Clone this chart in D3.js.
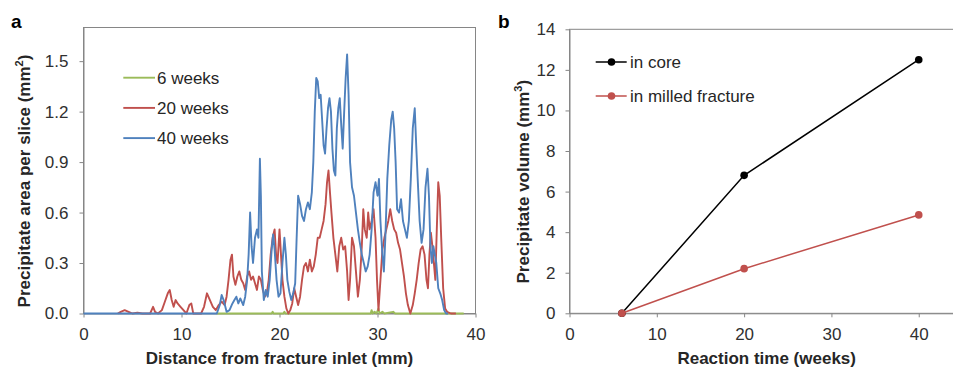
<!DOCTYPE html>
<html>
<head>
<meta charset="utf-8">
<script src="https://cdn.jsdelivr.net/npm/d3@7"></script>
<style>
  body { margin: 0; background: #fff; }
  svg { display: block; font-family: "Liberation Sans", Arial, sans-serif; }
  .axis path, .axis line { stroke: #868686; }
  .axis text { fill: #303030; font-size: 17px; font-family: "Liberation Sans", Arial, sans-serif; }
</style>
</head>
<body>
<svg id="chart" width="953" height="368"></svg>
<script>
// panel a: precipitate area per slice, [distance mm, area mm2]
var weeks6 = [[13.6,0],[19.2,0],[19.3,0.01],[19.4,0],[20.4,0],[20.5,0.01],[20.6,0],[29.3,0],[29.4,0.02],
  [29.5,0],[29.7,0.01],[29.9,0],[30.1,0.03],[30.2,0],[30.5,0.01],[30.7,0],[31.6,0.01],[31.8,0],[38.8,0]];

var weeks20 = [[3.5,0],[3.8,0.01],[4.2,0.02],[4.6,0.01],[5.0,0],[5.5,0.005],[6.0,0],[6.8,0],[7.1,0.04],[7.3,0.01],
  [7.6,0],[8.0,0.02],[8.3,0.07],[8.6,0.12],[8.8,0.14],[9.0,0.08],[9.2,0.04],[9.4,0.08],[9.6,0.06],[9.9,0.04],
  [10.2,0.02],[10.5,0],[10.8,0.05],[11.0,0.06],[11.2,0],[11.6,0],[12.0,0],[12.3,0.04],[12.6,0.12],[12.9,0.08],
  [13.2,0.04],[13.5,0.02],[13.8,0.05],[14.1,0.07],[14.4,0.05],[14.6,0.1],[14.8,0.2],[15.0,0.32],[15.15,0.35],
  [15.3,0.22],[15.5,0.17],[15.7,0.22],[15.9,0.25],[16.1,0.2],[16.3,0.18],[16.5,0.14],[16.7,0.22],[16.9,0.25],
  [17.1,0.2],[17.3,0.22],[17.5,0.18],[17.7,0.14],[17.9,0.22],[18.1,0.2],[18.3,0.14],[18.5,0.1],[18.7,0.12],
  [18.9,0.2],[19.1,0.35],[19.3,0.45],[19.5,0.5],[19.65,0.35],[19.8,0.3],[20.0,0.5],[20.15,0.35],[20.3,0.2],
  [20.5,0.1],[20.7,0.03],[20.9,0],[21.1,0.02],[21.3,0.06],[21.5,0.15],[21.7,0.1],[21.9,0.05],[22.1,0.1],
  [22.3,0.2],[22.5,0.28],[22.7,0.3],[22.9,0.25],[23.1,0.32],[23.3,0.25],[23.5,0.28],[23.7,0.35],[23.9,0.45],
  [24.1,0.45],[24.3,0.5],[24.5,0.55],[24.7,0.65],[24.85,0.78],[25.0,0.85],[25.15,0.72],[25.3,0.6],[25.5,0.45],
  [25.7,0.35],[25.9,0.25],[26.1,0.4],[26.3,0.45],[26.5,0.38],[26.7,0.4],[26.9,0.25],[27.05,0.08],[27.2,0.2],
  [27.4,0.45],[27.6,0.4],[27.8,0.25],[28.0,0.1],[28.2,0.2],[28.4,0.4],[28.55,0.62],[28.7,0.5],[28.9,0.45],
  [29.05,0.6],[29.2,0.5],[29.4,0.55],[29.6,0.62],[29.8,0.45],[29.95,0.2],[30.1,0.02],[30.3,0.2],[30.5,0.38],
  [30.7,0.45],[30.9,0.5],[31.1,0.55],[31.3,0.62],[31.5,0.55],[31.7,0.5],[31.9,0.48],[32.1,0.42],[32.3,0.38],
  [32.5,0.3],[32.7,0.22],[32.9,0.12],[33.1,0.05],[33.35,0],[33.6,0.05],[33.8,0.12],[34.0,0.2],[34.2,0.3],
  [34.4,0.38],[34.6,0.4],[34.8,0.35],[35.0,0.2],[35.15,0.15],[35.3,0.35],[35.45,0.48],[35.6,0.4],[35.75,0.3],
  [35.9,0.2],[36.05,0.5],[36.2,0.78],[36.35,0.7],[36.5,0.45],[36.7,0.15],[36.9,0.03],[37.1,0.01],[37.5,0],[38.0,0]];

var weeks40 = [[0,0],[13.6,0],[13.9,0.05],[14.1,0.11],[14.3,0.08],[14.6,0.01],[14.9,0.02],[15.2,0.06],[15.4,0.08],
  [15.6,0.1],[15.8,0.06],[16.0,0.09],[16.3,0.05],[16.5,0.1],[16.7,0.2],[16.85,0.35],[17.0,0.6],[17.15,0.4],
  [17.3,0.3],[17.5,0.45],[17.7,0.5],[17.85,0.45],[18.0,0.92],[18.1,0.7],[18.2,0.25],[18.4,0.08],[18.6,0.14],
  [18.8,0.1],[19.0,0.2],[19.2,0.38],[19.35,0.47],[19.5,0.38],[19.7,0.2],[19.9,0.1],[20.1,0.12],[20.3,0.3],
  [20.5,0.45],[20.65,0.35],[20.8,0.2],[21.0,0.13],[21.2,0.08],[21.4,0.12],[21.6,0.18],[21.75,0.45],[21.9,0.7],
  [22.1,0.65],[22.3,0.58],[22.5,0.55],[22.7,0.62],[22.9,0.66],[23.1,0.62],[23.3,0.72],[23.45,0.9],[23.6,1.2],
  [23.75,1.4],[23.9,1.38],[24.05,1.28],[24.2,1.3],[24.35,1.15],[24.5,1.0],[24.65,0.95],[24.8,1.1],[24.95,1.22],
  [25.1,1.28],[25.25,1.2],[25.4,0.98],[25.55,0.85],[25.7,0.82],[25.85,1.1],[26.0,1.22],[26.15,1.28],[26.3,1.12],
  [26.45,0.98],[26.6,1.2],[26.75,1.4],[26.9,1.54],[27.05,1.3],[27.2,0.9],[27.4,0.75],[27.6,0.7],[27.8,0.6],
  [28.0,0.5],[28.2,0.42],[28.4,0.35],[28.6,0.3],[28.8,0.25],[29.0,0.28],[29.2,0.35],[29.4,0.5],[29.6,0.72],
  [29.8,0.78],[30.0,0.7],[30.15,0.8],[30.3,0.55],[30.5,0.35],[30.65,0.25],[30.8,0.45],[31.0,0.8],[31.2,1.0],
  [31.4,1.15],[31.55,1.2],[31.7,1.1],[31.85,0.9],[32.0,0.62],[32.2,0.6],[32.4,0.68],[32.6,0.55],[32.8,0.5],
  [33.0,0.45],[33.2,0.55],[33.4,0.8],[33.6,1.1],[33.8,1.22],[33.95,1.0],[34.1,0.8],[34.3,0.55],[34.5,0.42],
  [34.7,0.5],[34.9,0.75],[35.1,0.86],[35.25,0.7],[35.4,0.4],[35.55,0.3],[35.7,0.4],[35.85,0.35],[36.0,0.3],
  [36.2,0.15],[36.4,0.12],[36.6,0.08],[36.8,0.02],[37.0,0],[37.2,0]];

var seriesNamesA = ["6 weeks", "20 weeks", "40 weeks"];
var seriesColorsA = ["#9bbb59", "#c0504d", "#4f81bd"];
var yTicksA = [0, 0.3, 0.6, 0.9, 1.2, 1.5];
var xTicksA = [0, 10, 20, 30, 40];

// panel b: precipitate volume
var reactionWeeks = [6, 20, 40];
var volumeCore = [0, 6.8, 12.5];
var volumeMilled = [0, 2.2, 4.85];
var seriesNamesB = ["in core", "in milled fracture"];
var seriesColorsB = ["#000000", "#c0504d"];
var yTicksB = [0, 2, 4, 6, 8, 10, 12, 14];
var xTicksB = [0, 10, 20, 30, 40];

var svg = d3.select("#chart");

// ---------- panel a ----------
var xA = d3.scaleLinear().domain([0, 40]).range([83.5, 475.5]);
var yA = d3.scaleLinear().domain([0, 1.7]).range([313.5, 27.5]);

var gA = svg.append("g");

// plot area box
gA.append("rect")
  .attr("x", xA(0)).attr("y", yA(1.7))
  .attr("width", xA(40) - xA(0)).attr("height", yA(0) - yA(1.7))
  .attr("fill", "none").attr("stroke", "#868686");

gA.append("g").attr("class", "axis")
  .attr("transform", "translate(0," + yA(0) + ")")
  .call(d3.axisBottom(xA).tickValues(xTicksA).tickSize(4).tickPadding(10.5).tickSizeOuter(0));

gA.append("g").attr("class", "axis")
  .attr("transform", "translate(" + xA(0) + ",0)")
  .call(d3.axisLeft(yA).tickValues(yTicksA).tickFormat(d3.format(".1f")).tickSize(4).tickPadding(11).tickSizeOuter(0));

var lineA = d3.line()
  .x(function(d) { return xA(d[0]); })
  .y(function(d) { return yA(d[1]); });

[weeks6, weeks20, weeks40].forEach(function(s, i) {
  gA.append("path")
    .datum(s)
    .attr("d", lineA)
    .attr("fill", "none")
    .attr("stroke", seriesColorsA[i])
    .attr("stroke-width", 1.9)
    .attr("stroke-linejoin", "round");
});

// legend a
seriesNamesA.forEach(function(name, i) {
  var ly = 77.7 + i * 30.2;
  gA.append("line")
    .attr("x1", 123.3).attr("x2", 155)
    .attr("y1", ly).attr("y2", ly)
    .attr("stroke", seriesColorsA[i]).attr("stroke-width", 1.9);
  gA.append("text")
    .attr("x", 157).attr("y", ly).attr("dy", "0.35em")
    .attr("font-size", 17).attr("fill", "#262626")
    .text(name);
});

gA.append("text")
  .attr("x", (xA(0) + xA(40)) / 2).attr("y", 364)
  .attr("text-anchor", "middle").attr("font-weight", "bold").attr("font-size", 17).attr("fill", "#262626")
  .text("Distance from fracture inlet (mm)");

var yTitleA = gA.append("text")
  .attr("transform", "translate(30,181) rotate(-90)")
  .attr("text-anchor", "middle").attr("font-weight", "bold").attr("font-size", 17).attr("fill", "#262626");
yTitleA.append("tspan").text("Precipitate area per slice (mm");
yTitleA.append("tspan").attr("font-size", 11).attr("dy", "-0.6em").text("2");
yTitleA.append("tspan").attr("dy", "0.4em").text(")");

svg.append("text")
  .attr("x", 11).attr("y", 28)
  .attr("font-weight", "bold").attr("font-size", 19).attr("fill", "#000")
  .text("a");

// ---------- panel b ----------
var xB = d3.scaleLinear().domain([0, 45]).range([569.5, 962.4]);
var yB = d3.scaleLinear().domain([0, 14]).range([313.3, 29.3]);

var gB = svg.append("g");

gB.append("rect")
  .attr("x", xB(0)).attr("y", yB(14))
  .attr("width", xB(45) - xB(0)).attr("height", yB(0) - yB(14))
  .attr("fill", "none").attr("stroke", "#868686");

gB.append("g").attr("class", "axis")
  .attr("transform", "translate(0," + yB(0) + ")")
  .call(d3.axisBottom(xB).tickValues(xTicksB).tickSize(4).tickPadding(10.5).tickSizeOuter(0));

gB.append("g").attr("class", "axis")
  .attr("transform", "translate(" + xB(0) + ",0)")
  .call(d3.axisLeft(yB).tickValues(yTicksB).tickSize(4).tickPadding(10).tickSizeOuter(0));

var lineB = d3.line()
  .x(function(d) { return xB(d[0]); })
  .y(function(d) { return yB(d[1]); });

[volumeCore, volumeMilled].forEach(function(vals, i) {
  var pts = reactionWeeks.map(function(w, j) { return [w, vals[j]]; });
  gB.append("path")
    .datum(pts)
    .attr("d", lineB)
    .attr("fill", "none")
    .attr("stroke", seriesColorsB[i])
    .attr("stroke-width", 1.5);
  gB.selectAll(null)
    .data(pts)
    .enter().append("circle")
    .attr("cx", function(d) { return xB(d[0]); })
    .attr("cy", function(d) { return yB(d[1]); })
    .attr("r", 3.8)
    .attr("fill", seriesColorsB[i]);
});

// legend b
seriesNamesB.forEach(function(name, i) {
  var ly = 62 + i * 34;
  gB.append("line")
    .attr("x1", 595.7).attr("x2", 626.7)
    .attr("y1", ly).attr("y2", ly)
    .attr("stroke", seriesColorsB[i]).attr("stroke-width", 1.5);
  gB.append("circle")
    .attr("cx", 611.5).attr("cy", ly).attr("r", 3.8)
    .attr("fill", seriesColorsB[i]);
  gB.append("text")
    .attr("x", 630).attr("y", ly).attr("dy", "0.35em")
    .attr("font-size", 17).attr("fill", "#262626")
    .text(name);
});

gB.append("text")
  .attr("x", 766.7).attr("y", 364)
  .attr("text-anchor", "middle").attr("font-weight", "bold").attr("font-size", 17).attr("fill", "#262626")
  .text("Reaction time (weeks)");

var yTitleB = gB.append("text")
  .attr("transform", "translate(528.5,181.7) rotate(-90)")
  .attr("text-anchor", "middle").attr("font-weight", "bold").attr("font-size", 17).attr("fill", "#262626");
yTitleB.append("tspan").text("Precipitate volume (mm");
yTitleB.append("tspan").attr("font-size", 11).attr("dy", "-0.6em").text("3");
yTitleB.append("tspan").attr("dy", "0.4em").text(")");

svg.append("text")
  .attr("x", 498).attr("y", 28)
  .attr("font-weight", "bold").attr("font-size", 19).attr("fill", "#000")
  .text("b");
</script>
</body>
</html>
